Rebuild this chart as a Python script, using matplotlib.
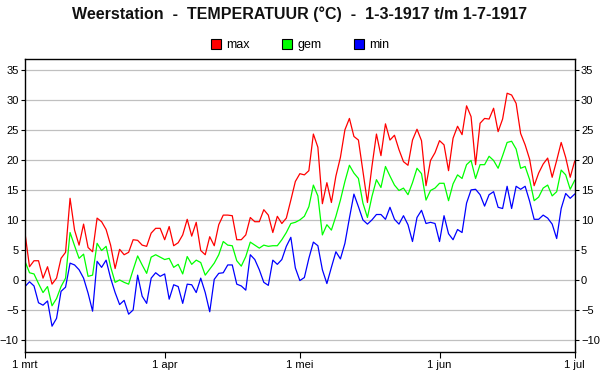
import matplotlib
matplotlib.use("Agg")
import matplotlib.pyplot as plt
import matplotlib.dates as mdates
from matplotlib.patches import Patch
import pandas as pd

plt.rcParams['font.family'] = ['Liberation Sans', 'DejaVu Sans']

dates = pd.date_range("1917-03-01", "1917-07-01", freq="D")

tmax = [7.8, 2.2, 3.2, 3.2, 0.3, 2.2, -0.7, 0.3, 3.6, 4.6,
        13.6, 8.3, 5.8, 9.3, 5.4, 4.7, 10.3, 9.7, 8.4, 5.8,
        1.9, 5.1, 4.2, 4.6, 6.7, 6.6, 5.8, 5.6, 7.8, 8.6,
        8.6, 6.7, 8.9, 5.7, 6.2, 7.5, 10.1, 7.3, 9.6, 4.9,
        4.2, 7.2, 5.7, 9.2, 10.8, 10.8, 10.7, 6.7, 6.7, 7.5,
        10.4, 9.7, 9.7, 11.7, 10.8, 7.9, 10.6, 9.4, 10.3, 13.3,
        16.4, 17.7, 17.5, 18.2, 24.3, 22.1, 12.7, 16.2, 12.9, 17.3,
        20.4, 25.0, 26.9, 23.9, 23.3, 18.1, 12.9, 18.9, 24.3, 20.7,
        26.0, 23.3, 24.1, 21.7, 19.7, 19.1, 23.3, 25.1, 23.2, 15.7,
        19.9, 21.2, 23.2, 22.5, 18.2, 23.6, 25.6, 24.2, 29.0, 27.2,
        19.2, 26.1, 26.9, 26.8, 28.6, 24.7, 26.8, 31.1, 30.8, 29.4,
        24.4, 22.5, 20.1, 15.7, 17.8, 19.3, 20.3, 17.1, 19.9, 22.9,
        20.4, 17.1, 19.8]

tgem = [3.1, 1.2, 1.0, -0.6, -2.1, -1.1, -4.3, -3.1, -1.1, 0.3,
        7.9, 5.7, 3.6, 4.3, 0.6, 0.8, 6.1, 4.9, 5.6, 2.2,
        -0.4, 0.0, -0.4, -0.7, 1.7, 4.0, 2.5, 1.1, 3.8, 4.2,
        3.8, 3.4, 3.6, 2.1, 2.6, 1.0, 3.9, 2.6, 3.3, 2.9,
        0.8, 1.8, 2.8, 4.2, 6.4, 5.8, 5.7, 3.2, 2.3, 3.9,
        6.3, 5.8, 5.3, 5.8, 5.6, 5.7, 5.7, 6.7, 7.9, 9.4,
        9.6, 10.0, 10.6, 12.2, 15.8, 14.0, 7.5, 9.2, 8.3, 10.6,
        13.3, 16.4, 19.1, 17.8, 16.9, 12.8, 10.4, 13.9, 16.7, 15.4,
        18.9, 17.3, 15.8, 14.9, 15.3, 14.2, 16.2, 18.6, 17.7, 13.3,
        14.9, 15.3, 16.1, 16.1, 13.2, 16.0, 17.5, 16.9, 19.2, 19.9,
        16.9, 19.2, 19.2, 20.6, 19.9, 18.6, 20.7, 22.9, 23.1, 21.8,
        18.6, 18.9, 16.7, 13.2, 13.8, 15.3, 15.8, 14.0, 14.7, 18.3,
        17.5, 15.1, 16.6]

tmin = [-1.1, -0.3, -1.0, -3.8, -4.2, -3.5, -7.7, -6.4, -1.9, -1.2,
        2.8, 2.5, 1.7, 0.3, -2.2, -5.2, 3.1, 2.1, 3.3, 0.3,
        -2.1, -4.1, -3.4, -5.7, -5.0, 0.8, -2.7, -3.9, 0.3, 1.2,
        0.6, 1.0, -3.2, -0.8, -1.1, -3.9, -0.7, -0.8, -2.1, 0.3,
        -2.1, -5.3, 0.1, 1.1, 1.2, 2.5, 2.5, -0.7, -1.0, -1.7,
        4.2, 3.4, 1.7, -0.4, -0.9, 3.3, 2.6, 3.4, 5.6, 7.1,
        2.0, -0.1, 0.4, 3.6, 6.3, 5.7, 1.7, -0.6, 2.1, 4.7,
        3.5, 6.1, 10.3, 14.3, 12.2, 10.0, 9.3, 10.0, 10.9, 10.9,
        10.1, 12.1, 10.1, 9.3, 10.7, 9.2, 6.4, 10.4, 11.6, 9.4,
        9.6, 9.4, 6.4, 10.7, 7.7, 6.7, 8.4, 7.9, 12.8, 15.0,
        15.1, 14.2, 12.3, 14.2, 14.7, 12.1, 11.9, 15.6, 11.9, 15.6,
        15.1, 15.6, 13.1, 10.1, 10.1, 10.8, 10.3, 9.3, 6.9, 11.9,
        14.4, 13.6, 14.3]

series_labels = ["max", "gem", "min"]
series_colors = ["#ff0000", "#00ff00", "#0000ff"]
xtick_dates = pd.to_datetime(["1917-03-01", "1917-04-01", "1917-05-01", "1917-06-01", "1917-07-01"])
xtick_labels = ["1 mrt", "1 apr", "1 mei", "1 jun", "1 jul"]
yticks = list(range(-10, 40, 5))

fig = plt.figure(figsize=(6.0, 3.9), dpi=100)
ax = fig.add_axes([25/600, 38/390, 549.7/600, 293/390])

for vals, col in zip([tmax, tgem, tmin], series_colors):
    ax.plot(dates, vals, color=col, linewidth=0.9)

ax.set_xlim(dates[0], dates[-1])
ax.set_ylim(-12, 36.8)
ax.set_yticks(yticks)
ax.set_xticks(xtick_dates)
ax.set_xticklabels(xtick_labels)
ax.grid(axis='y', color='#c0c0c0', linewidth=0.9)
ax.set_axisbelow(True)
ax.tick_params(axis='y', which='both', left=True, right=True, labelleft=True, labelright=True,
               direction='out', length=3, width=0.8, labelsize=8, pad=1.5)
ax.tick_params(axis='x', direction='out', length=4, width=0.8, labelsize=8, pad=2)
for s in ax.spines.values():
    s.set_linewidth(1.0)
    s.set_color('black')

fig.text(0.5, 1 - 14/390, "Weerstation  -  TEMPERATUUR (°C)  -  1-3-1917 t/m 1-7-1917",
         ha='center', va='center', fontsize=11.5, fontweight='bold', color='#111111')

handles = [Patch(facecolor=c, edgecolor='black', linewidth=0.8, label=l)
           for c, l in zip(series_colors, series_labels)]
fig.legend(handles=handles, loc='center', bbox_to_anchor=(0.5, 1 - 45/390), ncol=3,
           frameon=False, fontsize=9, handlelength=0.8, handleheight=0.8,
           handletextpad=0.4, columnspacing=2.6)

fig.savefig("out.png", dpi=100)
